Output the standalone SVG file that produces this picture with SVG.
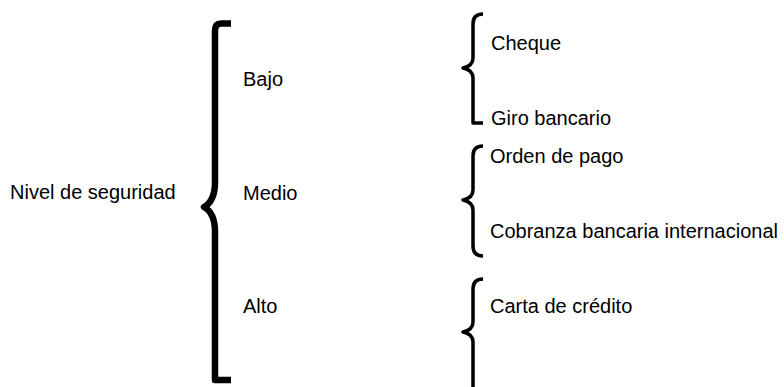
<svg xmlns="http://www.w3.org/2000/svg" width="784" height="387" viewBox="0 0 784 387">
<style>
text{font-family:"Liberation Sans",Arial,sans-serif;font-size:20px;fill:#000}
.big{fill:none;stroke:#000;stroke-width:6.5;stroke-linejoin:round}
.small{fill:none;stroke:#000;stroke-width:3.5;stroke-linejoin:round}
</style>
<rect width="784" height="387" fill="#fff"/>
<g id="connectors">
<path class="big" d="M231 23.5 H221 Q215 23.5 215 31 V182 Q215 201 204 207 Q215 213 215 232 V380 H231"/>
<path class="small" d="M483 14 Q473 14 473 24 V58 Q473 66 463 68 Q473 70 473 78 V123 H483"/>
<path class="small" d="M483 146 Q473 146 473 156 V190 Q473 198 463 200 Q473 202 473 210 V246 Q473 256 483 256"/>
<path class="small" d="M483 279 Q473 279 473 289 V322 Q473 330 463 332 Q473 334 473 342 V390"/>
</g>
<g id="nivel"><text x="10" y="199">Nivel de seguridad</text></g>
<g id="bajo"><text x="243" y="86">Bajo</text></g>
<g id="medio"><text x="243" y="200">Medio</text></g>
<g id="alto"><text x="243" y="313">Alto</text></g>
<g id="cheque"><text x="491" y="50">Cheque</text></g>
<g id="giro"><text x="491" y="125">Giro bancario</text></g>
<g id="orden"><text x="490" y="163">Orden de pago</text></g>
<g id="cobranza"><text x="490" y="238">Cobranza bancaria internacional</text></g>
<g id="carta"><text x="490" y="313">Carta de crédito</text></g>
</svg>
